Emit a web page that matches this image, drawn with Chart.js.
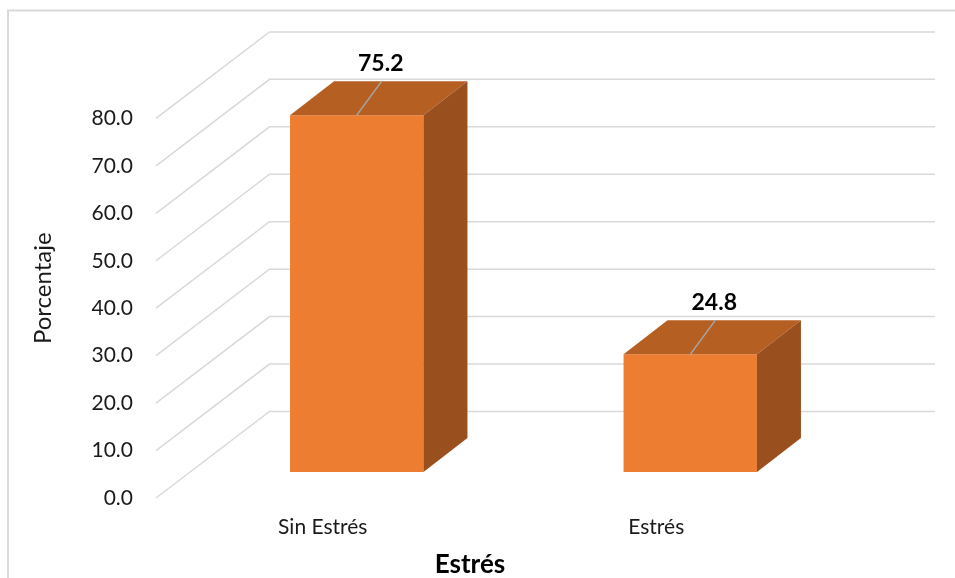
<!DOCTYPE html>
<html><head><meta charset="utf-8">
<script src="https://cdn.jsdelivr.net/npm/chart.js@4.4.1/dist/chart.umd.min.js"></script>
<style>html,body{margin:0;padding:0;background:#fff;}#wrap{width:955px;height:578px;}</style>
</head><body><div id="wrap"><canvas id="c" width="955" height="578"></canvas></div>
<script>
// ---- data ----
const categories = ['Sin Estrés', 'Estrés'];
const percentages = [75.2, 24.8];
const yTickValues = [0, 10, 20, 30, 40, 50, 60, 70, 80];
const xAxisTitle = 'Estrés';
const yAxisTitle = 'Porcentaje';

// ---- 3D projection offsets (pixels, style only) ----
const FRONT = { dx: -34, dy: 26 };    // front floor edge relative to bar plane
const BACK = { dx: 79.5, dy: -60.5 }; // back wall relative to bar plane
const DEPTH = { dx: 44, dy: -34 };    // bar depth
const FONT = 'Lato, "Open Sans", sans-serif';

const bgPlugin = {
  id: 'bg',
  beforeDraw(chart) {
    const ctx = chart.ctx;
    ctx.save();
    ctx.fillStyle = '#fff';
    ctx.fillRect(0, 0, chart.width, chart.height);
    ctx.strokeStyle = '#D9D9D9';
    ctx.lineWidth = 2;
    ctx.strokeRect(8, 10.5, 1200, 1200);
    ctx.restore();
  }
};

const grid3dPlugin = {
  id: 'grid3d',
  beforeDatasetsDraw(chart) {
    const { ctx, chartArea, scales } = chart;
    const y = scales.y;
    ctx.save();
    ctx.strokeStyle = '#D9D9D9';
    ctx.lineWidth = 1.5;
    y.ticks.forEach(t => {
      const py = y.getPixelForValue(t.value);
      ctx.beginPath();
      ctx.moveTo(chartArea.left + FRONT.dx, py + FRONT.dy);
      ctx.lineTo(chartArea.left + BACK.dx, py + BACK.dy);
      ctx.lineTo(chartArea.right + BACK.dx - 1.5, py + BACK.dy);
      ctx.stroke();
    });
    ctx.restore();
  }
};

const bar3dPlugin = {
  id: 'bar3d',
  afterDatasetsDraw(chart) {
    const ctx = chart.ctx;
    const meta = chart.getDatasetMeta(0);
    const data = chart.data.datasets[0].data;
    ctx.save();
    meta.data.forEach((el, i) => {
      const p = el.getProps(['x', 'y', 'base', 'width'], true);
      const L = p.x - p.width / 2, R = p.x + p.width / 2, T = p.y, B = p.base;
      // top face
      ctx.fillStyle = '#B65F23';
      ctx.beginPath();
      ctx.moveTo(L, T);
      ctx.lineTo(L + DEPTH.dx, T + DEPTH.dy);
      ctx.lineTo(R + DEPTH.dx, T + DEPTH.dy);
      ctx.lineTo(R, T);
      ctx.closePath();
      ctx.fill();
      // side face
      ctx.fillStyle = '#9A4F1E';
      ctx.beginPath();
      ctx.moveTo(R, T);
      ctx.lineTo(R + DEPTH.dx, T + DEPTH.dy);
      ctx.lineTo(R + DEPTH.dx, B + DEPTH.dy);
      ctx.lineTo(R, B);
      ctx.closePath();
      ctx.fill();
      // leader line
      ctx.strokeStyle = '#A6A6A6';
      ctx.lineWidth = 1.5;
      ctx.beginPath();
      ctx.moveTo(p.x, T);
      ctx.lineTo(p.x + 25, T - 34);
      ctx.stroke();
      // value label
      ctx.fillStyle = '#000';
      ctx.font = 'bold 23px ' + FONT;
      ctx.textAlign = 'center';
      ctx.textBaseline = 'middle';
      ctx.fillText(Number(data[i]).toFixed(1), p.x + 24, T - 52);
    });
    ctx.restore();
  }
};

new Chart(document.getElementById('c'), {
  type: 'bar',
  data: {
    labels: categories,
    datasets: [{
      data: percentages,
      backgroundColor: '#ED7D31',
      borderWidth: 0,
      barPercentage: 0.4,
      categoryPercentage: 1.0
    }]
  },
  options: {
    responsive: false,
    animation: false,
    devicePixelRatio: 1,
    layout: { padding: { left: 83, right: 98, top: 92.4, bottom: 0 } },
    plugins: {
      legend: { display: false },
      tooltip: { enabled: false },
      title: {
        display: true,
        text: xAxisTitle,
        position: 'bottom',
        fullSize: true,
        color: '#000',
        font: { family: FONT, size: 26, weight: 'bold', lineHeight: 1 },
        padding: { top: 14, bottom: 0 }
      }
    },
    scales: {
      x: {
        type: 'category',
        grid: { display: false, drawTicks: false },
        border: { display: false },
        ticks: {
          color: '#1a1a1a',
          font: { family: FONT, size: 21 },
          labelOffset: -34,
          padding: 31,
          maxRotation: 0
        },
        afterFit(s) { s.height = 54; }
      },
      y: {
        min: -2.53,
        max: 80,
        grid: { display: false, drawTicks: false },
        border: { display: false },
        afterBuildTicks(s) { s.ticks = yTickValues.map(v => ({ value: v })); },
        ticks: {
          color: '#1a1a1a',
          font: { family: FONT, size: 21 },
          labelOffset: 26,
          padding: 57,
          callback: v => Number(v).toFixed(1)
        },
        title: {
          display: true,
          text: yAxisTitle,
          color: '#1a1a1a',
          font: { family: FONT, size: 24, lineHeight: 1.2 },
          padding: { top: -54.4, bottom: 0 }
        },
        afterFit(s) { s.width = 107; }
      }
    }
  },
  plugins: [bgPlugin, grid3dPlugin, bar3dPlugin]
});
</script>
</body></html>
